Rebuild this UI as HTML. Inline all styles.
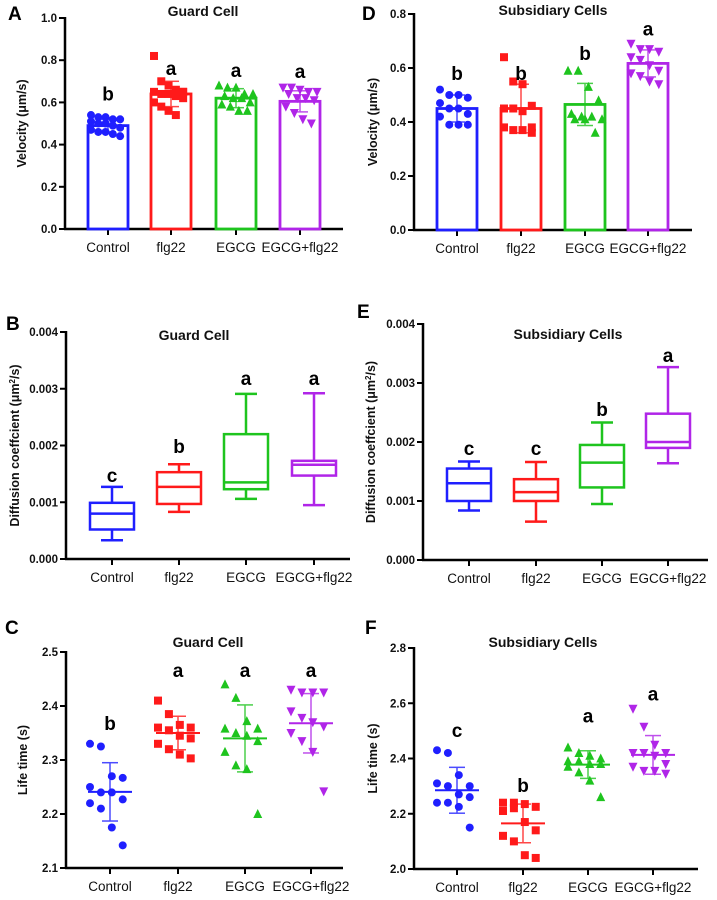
<!DOCTYPE html>
<html><head><meta charset="utf-8">
<style>
html,body{margin:0;padding:0;background:#fff;}
svg{display:block;font-family:"Liberation Sans",Arial,sans-serif;}
</style></head>
<body>
<svg id="fig" width="717" height="900" viewBox="0 0 717 900" xmlns="http://www.w3.org/2000/svg"></svg>
<script>
const categories = ["Control","flg22","EGCG","EGCG+flg22"];
const colors = ["#1f1fff","#ff1a1a","#1ec41e","#b025e8"];
const markers = ["circle","square","tri-up","tri-down"];

// Panel A: Guard cell velocity
const velGC = [
 [0.54,0.53,0.53,0.52,0.52,0.51,0.50,0.50,0.49,0.48,0.47,0.46,0.46,0.45,0.44],
 [0.82,0.70,0.68,0.66,0.65,0.65,0.64,0.64,0.63,0.62,0.60,0.58,0.56,0.54,0.65],
 [0.68,0.67,0.67,0.64,0.64,0.63,0.62,0.62,0.60,0.59,0.58,0.56,0.56],
 [0.67,0.67,0.66,0.65,0.65,0.64,0.62,0.62,0.61,0.58,0.55,0.52,0.50]];
const velGCMean = [0.49,0.64,0.62,0.605];
const velGCSd = [0.03,0.06,0.045,0.05];
const velGCLetters = ["b","a","a","a"];
const velGCLetterY = [0.61,0.73,0.72,0.715];

// Panel D: Subsidiary velocity
const velSC = [
 [0.52,0.50,0.50,0.49,0.47,0.45,0.45,0.43,0.42,0.39,0.39,0.39],
 [0.64,0.55,0.54,0.46,0.45,0.45,0.44,0.38,0.38,0.37,0.37,0.36],
 [0.59,0.59,0.53,0.48,0.43,0.42,0.42,0.41,0.41,0.41,0.36],
 [0.69,0.67,0.67,0.66,0.64,0.63,0.61,0.59,0.58,0.57,0.55,0.54]];
const velSCMean = [0.45,0.45,0.465,0.617];
const velSCSd = [0.05,0.09,0.078,0.05];
const velSCLetters = ["b","b","b","a"];
const velSCLetterY = [0.556,0.555,0.63,0.72];

// Panel B: Guard cell diffusion boxes [min,q1,median,q3,max]
const difGC = [
 [0.00033,0.00052,0.00080,0.00099,0.00127],
 [0.00083,0.00097,0.00127,0.00153,0.00167],
 [0.00106,0.00123,0.00135,0.00220,0.00291],
 [0.00095,0.00147,0.00166,0.00173,0.00292]];
const difGCLetters = ["c","b","a","a"];
const difGCLetterY = [0.00136,0.00187,0.00307,0.00307];

// Panel E: Subsidiary diffusion boxes
const difSC = [
 [0.00084,0.00100,0.00130,0.00155,0.00167],
 [0.00065,0.00100,0.00115,0.00137,0.00166],
 [0.00095,0.00123,0.00165,0.00195,0.00233],
 [0.00164,0.00190,0.00200,0.00248,0.00327]];
const difSCLetters = ["c","c","b","a"];
const difSCLetterY = [0.00178,0.00178,0.00244,0.00336];

// Panel C: Guard cell life time
const lifeGC = [
 [2.33,2.325,2.27,2.267,2.25,2.24,2.24,2.227,2.22,2.21,2.175,2.142],
 [2.41,2.385,2.365,2.36,2.36,2.355,2.345,2.34,2.33,2.32,2.31,2.303],
 [2.44,2.415,2.372,2.358,2.358,2.35,2.345,2.335,2.315,2.29,2.283,2.2],
 [2.43,2.425,2.425,2.425,2.39,2.378,2.37,2.362,2.35,2.335,2.315,2.242]];
const lifeGCMean = [2.241,2.35,2.34,2.368];
const lifeGCSd = [0.054,0.031,0.062,0.055];
const lifeGCLetters = ["b","a","a","a"];
const lifeGCLetterY = [2.356,2.454,2.454,2.454];

// Panel F: Subsidiary life time
const lifeSC = [
 [2.43,2.42,2.34,2.30,2.31,2.30,2.27,2.26,2.24,2.24,2.225,2.15],
 [2.24,2.24,2.235,2.225,2.21,2.22,2.17,2.14,2.12,2.10,2.05,2.04],
 [2.44,2.42,2.41,2.40,2.39,2.39,2.38,2.38,2.37,2.35,2.32,2.26],
 [2.58,2.515,2.45,2.42,2.42,2.42,2.41,2.38,2.37,2.355,2.355,2.345]];
const lifeSCMean = [2.285,2.165,2.378,2.413];
const lifeSCSd = [0.083,0.07,0.05,0.07];
const lifeSCLetters = ["c","b","a","a"];
const lifeSCLetterY = [2.478,2.279,2.53,2.61];

const velTicks = [0,0.2,0.4,0.6,0.8,1.0];
const velTicksD = [0,0.2,0.4,0.6,0.8];
const difTicks = [0,0.001,0.002,0.003,0.004];
const lifeTicksC = [2.1,2.2,2.3,2.4,2.5];
const lifeTicksF = [2.0,2.2,2.4,2.6,2.8];

const NS="http://www.w3.org/2000/svg";
const svg=document.getElementById('fig');
function mk(tag,attrs,parent){const e=document.createElementNS(NS,tag);for(const k in attrs)e.setAttribute(k,attrs[k]);(parent||svg).appendChild(e);return e;}

function marker(g,type,cx,cy,col){
  const s=4;let e;
  if(type==="circle") e=mk('circle',{cx:cx,cy:cy,r:s,fill:col},g);
  else if(type==="square") e=mk('rect',{x:cx-s,y:cy-s,width:2*s,height:2*s,fill:col},g);
  else if(type==="tri-up") e=mk('polygon',{points:`${cx},${cy-s-1} ${cx-s-0.5},${cy+s} ${cx+s+0.5},${cy+s}`,fill:col},g);
  else e=mk('polygon',{points:`${cx},${cy+s+1} ${cx-s-0.5},${cy-s} ${cx+s+0.5},${cy-s}`,fill:col},g);
  
  
}

function panel(p){
  const g=mk('g',{});
  
  
  const yS=v=>p.yBot-(v-p.vmin)/(p.vmax-p.vmin)*(p.yBot-p.yTop);
  const L=mk('text',{x:p.letterX,y:p.letterY,'font-size':19,'font-weight':'bold',fill:'#000'},g);L.textContent=p.letter;
  
  const T=mk('text',{x:p.titleX,y:p.titleY,'font-size':14,'font-weight':'bold','text-anchor':'middle',fill:'#111'},g);T.textContent=p.title;
  
  const YL=mk('text',{transform:`translate(${p.ylabelX},${(p.yTop+p.yBot)/2}) rotate(-90)`,'font-size':12.5,'font-weight':'bold','text-anchor':'middle',fill:'#111'},g);
  
  if(p.sup){YL.textContent=p.ylabel;const ts=mk('tspan',{'baseline-shift':'super','font-size':8},YL);ts.textContent='2';const t2=mk('tspan',{},YL);t2.textContent='/s)';}
  else YL.textContent=p.ylabel;
  p.ticks.forEach(t=>{
    const y=yS(t);
    const tl=mk('line',{x1:p.x0-6,x2:p.x0,y1:y,y2:y,stroke:'#000','stroke-width':2},g);
    
    const tx=mk('text',{x:p.x0-8,y:y+4,'font-size':11.5,'font-weight':'bold','text-anchor':'end',fill:'#111'},g);
    tx.textContent=p.fmt(t);
    
  });
  const ya=mk('line',{x1:p.x0,x2:p.x0,y1:p.yTop-1,y2:p.yBot+1,stroke:'#000','stroke-width':2.5},g);
  
  const xa=mk('line',{x1:p.x0-1,x2:p.xEnd,y1:p.yBot,y2:p.yBot,stroke:'#000','stroke-width':2.5},g);
  
  categories.forEach((c,i)=>{
    const cx=p.centers[i];
    const tk=mk('line',{x1:cx,x2:cx,y1:p.yBot,y2:p.yBot+6,stroke:'#000','stroke-width':2},g);
    
    const tx=mk('text',{x:cx,y:p.yBot+23,'font-size':13.5,'text-anchor':'middle',fill:'#111'},g);
    tx.textContent=c;
    
    const col=colors[i];
    if(p.type==='box'){
      const b=p.data[i];const w=p.bw/2;
      const bg=mk('g',{fill:'none',stroke:col,'stroke-width':2.5},g);
      
      mk('line',{x1:cx,x2:cx,y1:yS(b[0]),y2:yS(b[1])},bg);
      mk('line',{x1:cx,x2:cx,y1:yS(b[3]),y2:yS(b[4])},bg);
      mk('line',{x1:cx-w/2,x2:cx+w/2,y1:yS(b[0]),y2:yS(b[0])},bg);
      mk('line',{x1:cx-w/2,x2:cx+w/2,y1:yS(b[4]),y2:yS(b[4])},bg);
      mk('rect',{x:cx-w,y:yS(b[3]),width:2*w,height:yS(b[1])-yS(b[3])},bg);
      mk('line',{x1:cx-w,x2:cx+w,y1:yS(b[2]),y2:yS(b[2])},bg);
    } else {
      const m=p.mean[i],sd=p.sd[i];
      if(p.type==='bar'){
        const br=mk('rect',{x:cx-p.bw/2,y:yS(m),width:p.bw,height:p.yBot-yS(m),fill:'#fff',stroke:col,'stroke-width':2.8},g);
        
      }
      const pts=p.data[i];const n=pts.length;
      pts.forEach((v,j)=>{
        const off=((j*3)%n/(n-1)-0.5)*p.jw;
        marker(g,markers[i],cx+off,yS(v),col);
      });
      const eg=mk('g',{stroke:col,'stroke-width':1.5,opacity:0.8},g);
      
      mk('line',{x1:cx,x2:cx,y1:yS(m+sd),y2:yS(m-sd)},eg);
      mk('line',{x1:cx-8,x2:cx+8,y1:yS(m+sd),y2:yS(m+sd)},eg);
      mk('line',{x1:cx-8,x2:cx+8,y1:yS(m-sd),y2:yS(m-sd)},eg);
      if(p.type==='scatter'){const ml=mk('line',{x1:cx-p.ml,x2:cx+p.ml,y1:yS(m),y2:yS(m),stroke:col,'stroke-width':2},g);
        }
    }
    const lt=mk('text',{x:cx,y:yS(p.letY[i]),'font-size':19,'font-weight':'bold','text-anchor':'middle',fill:'#000'},g);
    lt.textContent=p.letters[i];
    
  });
}
const f1=v=>v.toFixed(1), f3=v=>v.toFixed(3);
panel({name:'panel-a',type:'bar',x0:65,xEnd:343,yTop:18,yBot:229,vmin:0,vmax:1,ticks:velTicks,fmt:f1,centers:[108,171,236,300],bw:40,jw:34,
 data:velGC,mean:velGCMean,sd:velGCSd,letters:velGCLetters,letY:velGCLetterY,title:'Guard Cell',titleX:203,titleY:16,letter:'A',letterX:8,letterY:20,ylabel:'Velocity (μm/s)',ylabelX:26});
panel({name:'panel-d',type:'bar',x0:414,xEnd:692,yTop:14,yBot:230,vmin:0,vmax:0.8,ticks:velTicksD,fmt:f1,centers:[457,521,585,648],bw:40,jw:34,
 data:velSC,mean:velSCMean,sd:velSCSd,letters:velSCLetters,letY:velSCLetterY,title:'Subsidiary Cells',titleX:553,titleY:15,letter:'D',letterX:362,letterY:20,ylabel:'Velocity (μm/s)',ylabelX:377});
panel({name:'panel-b',type:'box',x0:66,xEnd:350,yTop:332,yBot:559,vmin:0,vmax:0.004,ticks:difTicks,fmt:f3,centers:[112,179,246,314],bw:44,
 data:difGC,letters:difGCLetters,letY:difGCLetterY,title:'Guard Cell',titleX:194,titleY:340,letter:'B',letterX:6,letterY:330,ylabel:'Diffusion coeffcient (μm',ylabelX:19,sup:true});
panel({name:'panel-e',type:'box',x0:423,xEnd:708,yTop:324,yBot:560,vmin:0,vmax:0.004,ticks:difTicks,fmt:f3,centers:[469,536,602,668],bw:44,
 data:difSC,letters:difSCLetters,letY:difSCLetterY,title:'Subsidiary Cells',titleX:568,titleY:339,letter:'E',letterX:357,letterY:318,ylabel:'Diffusion coeffcient (μm',ylabelX:375,sup:true});
panel({name:'panel-c',type:'scatter',x0:66,xEnd:343,yTop:652,yBot:868,vmin:2.1,vmax:2.5,ticks:lifeTicksC,fmt:f1,centers:[110,178,245,311],jw:40,ml:22,
 data:lifeGC,mean:lifeGCMean,sd:lifeGCSd,letters:lifeGCLetters,letY:lifeGCLetterY,title:'Guard Cell',titleX:208,titleY:647,letter:'C',letterX:5,letterY:634,ylabel:'Life time (s)',ylabelX:27});
panel({name:'panel-f',type:'scatter',x0:414,xEnd:698,yTop:648,yBot:869,vmin:2.0,vmax:2.8,ticks:lifeTicksF,fmt:f1,centers:[457,523,588,653],jw:40,ml:22,
 data:lifeSC,mean:lifeSCMean,sd:lifeSCSd,letters:lifeSCLetters,letY:lifeSCLetterY,title:'Subsidiary Cells',titleX:543,titleY:647,letter:'F',letterX:365,letterY:634,ylabel:'Life time (s)',ylabelX:377});
</script>
</body></html>
